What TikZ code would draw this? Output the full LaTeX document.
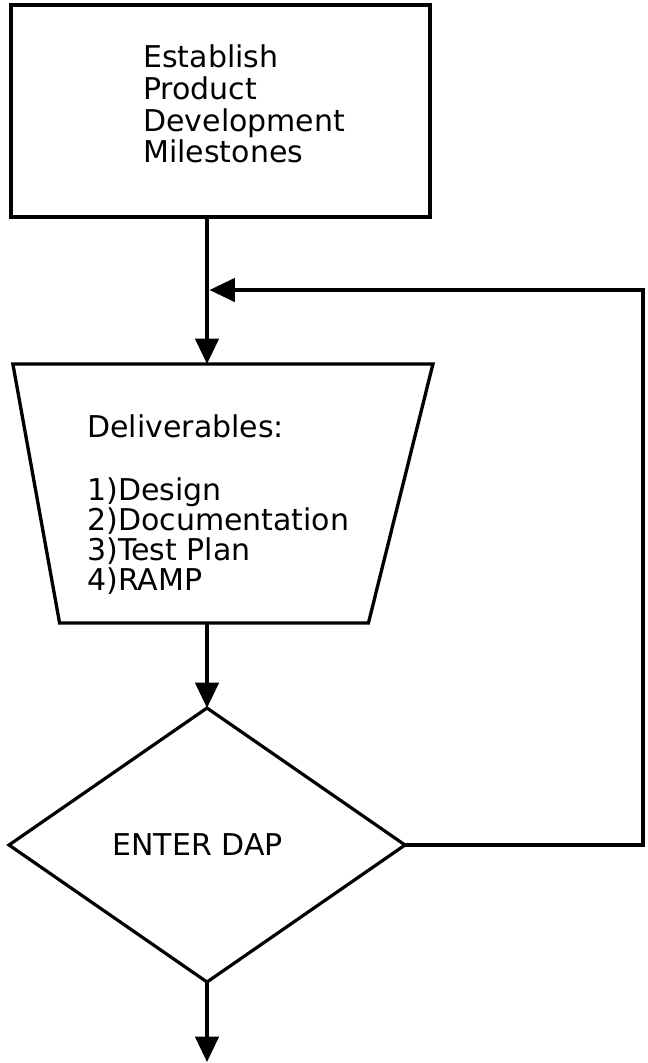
\documentclass[tikz,border=0pt]{standalone}
\usepackage{fontspec}
\setmainfont{DejaVu Sans}
\usetikzlibrary{arrows.meta,positioning,shapes.geometric}

\begin{document}
\begin{tikzpicture}[x=0.75pt,y=-0.75pt,
		Box/.style={rectangle,draw,line width=3pt,inner sep=0pt,outer sep=0pt},
		Funnel/.style={trapezium,draw,line width=2.5pt,shape border rotate=180,trapezium stretches=true,inner sep=2pt,outer sep=0pt},
		Decision/.style={diamond,draw,line width=2.4pt,inner sep=2pt,outer sep=0pt},
		Label/.style={align=left,inner sep=0pt,font=\fontsize{22.5}{23.8}\selectfont},
		Arrow/.style={-{Triangle[length=19pt,width=17.5pt]},line width=2.6pt}]
		\useasboundingbox (0,0) rectangle (647,1063);
		% nodes
		\node[Box,minimum width=314.25pt,minimum height=159pt] (Milestones) at (220.5,111) {};
		\node[Funnel,trapezium left angle=78.2,trapezium right angle=81.4,minimum width=315pt,minimum height=194.25pt] (Deliverables) at (214,493.5) {};
		\node[Decision,minimum width=297pt,minimum height=205.5pt] (DAP) at (207,845) {};
		\node[Label,anchor=west] (MilestonesText) at (143,104) {Establish\\Product\\Development\\Milestones};
		\node[Label,anchor=west,font=\fontsize{22.5}{22.5}\selectfont] (DeliverablesText) at (87,504.5) {Deliverables:\\[24.75pt]1)Design\\2)Documentation\\3)Test Plan\\4)RAMP};
		\node[Label] (DAPText) at (197.5,845) {ENTER DAP};
		\coordinate (LoopTop) at (643,290);
		\coordinate (LoopEnd) at (209.5,290);
		\coordinate (Exit) at (207,1062);
		% connections
		\draw [Arrow] (Milestones.south -| DAP.north) -- (Deliverables.north -| DAP.north);
		\draw [Arrow] (Deliverables.south -| DAP.north) -- (DAP.north);
		\draw [Arrow] (DAP.east) -| (LoopTop) -- (LoopEnd);
		\draw [Arrow] (DAP.south) -- (Exit);
	\end{tikzpicture}
\end{document}
